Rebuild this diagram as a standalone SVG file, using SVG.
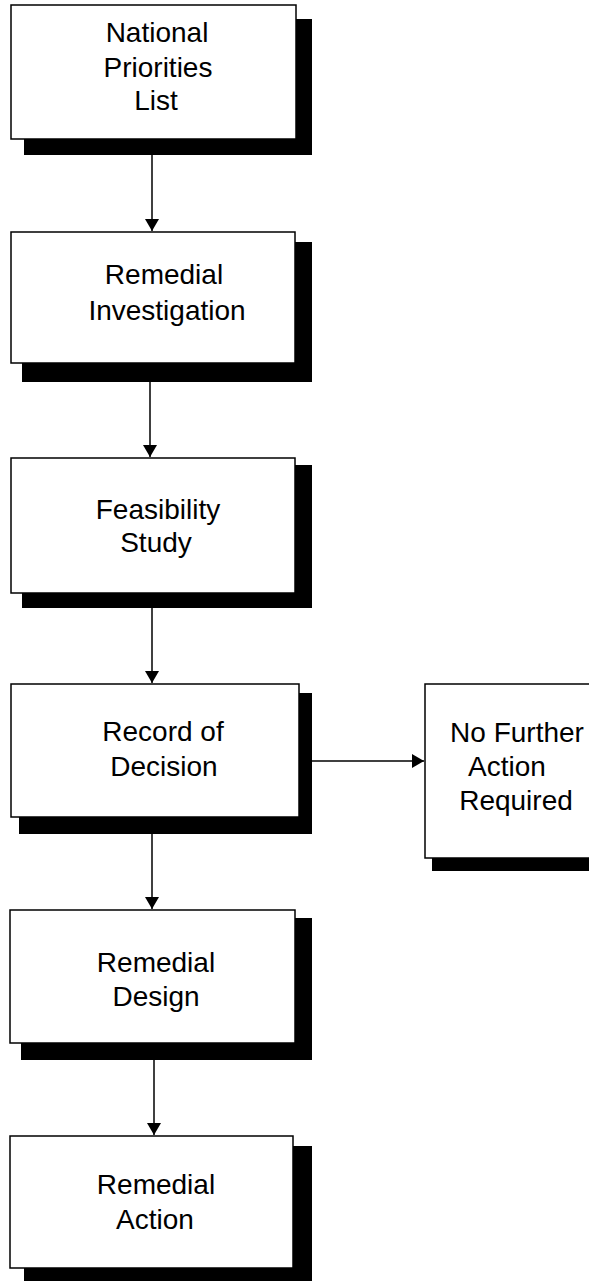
<svg xmlns="http://www.w3.org/2000/svg" width="589" height="1281" viewBox="0 0 589 1281">
  <defs>
    <marker id="arrowhead" markerWidth="14" markerHeight="14" viewBox="0 0 12 14" refX="12" refY="7" orient="auto" markerUnits="userSpaceOnUse">
      <path d="M0,0 L12,7 L0,14 Z" fill="#000"/>
    </marker>
  </defs>
  <style>
    .shadow { fill: #000; }
    .box { fill: #fff; stroke: #000; stroke-width: 1.5; }
    .label { font-family: "Liberation Sans", Arial, sans-serif; font-size: 28px; fill: #000; text-anchor: middle; }
    .link { stroke: #000; stroke-width: 1.5; fill: none; marker-end: url(#arrowhead); }
  </style>
  <rect width="589" height="1281" fill="#fff"/>

  <g id="connectors">
    <line class="link" x1="152" y1="155" x2="152" y2="231"/>
    <line class="link" x1="150" y1="382" x2="150" y2="457"/>
    <line class="link" x1="152" y1="608" x2="152" y2="683"/>
    <line class="link" x1="152" y1="834" x2="152" y2="909"/>
    <line class="link" x1="154" y1="1060" x2="154" y2="1135"/>
    <line class="link" x1="312" y1="761" x2="424" y2="761"/>
  </g>

  <g id="national-priorities-list">
    <rect class="shadow" x="24" y="19" width="288" height="136"/>
    <rect class="box" x="11" y="5" width="285" height="134"/>
    <text class="label" x="157" y="42">National</text>
    <text class="label" x="158" y="77">Priorities</text>
    <text class="label" x="156" y="110">List</text>
  </g>

  <g id="remedial-investigation">
    <rect class="shadow" x="22" y="242" width="290" height="140"/>
    <rect class="box" x="11" y="232" width="284" height="131"/>
    <text class="label" x="164" y="284">Remedial</text>
    <text class="label" x="167" y="320">Investigation</text>
  </g>

  <g id="feasibility-study">
    <rect class="shadow" x="22" y="465" width="290" height="143"/>
    <rect class="box" x="11" y="458" width="284" height="135"/>
    <text class="label" x="158" y="519">Feasibility</text>
    <text class="label" x="156" y="552">Study</text>
  </g>

  <g id="record-of-decision">
    <rect class="shadow" x="19" y="693" width="293" height="141"/>
    <rect class="box" x="11" y="684" width="288" height="133"/>
    <text class="label" x="163" y="741">Record of</text>
    <text class="label" x="164" y="776">Decision</text>
  </g>

  <g id="no-further-action">
    <rect class="shadow" x="432" y="697" width="200" height="174"/>
    <rect class="box" x="425" y="684" width="190" height="174"/>
    <text class="label" x="517" y="742">No Further</text>
    <text class="label" x="507" y="776">Action</text>
    <text class="label" x="516" y="810">Required</text>
  </g>

  <g id="remedial-design">
    <rect class="shadow" x="21" y="918" width="291" height="142"/>
    <rect class="box" x="10" y="910" width="285" height="133"/>
    <text class="label" x="156" y="972">Remedial</text>
    <text class="label" x="156" y="1006">Design</text>
  </g>

  <g id="remedial-action">
    <rect class="shadow" x="24" y="1146" width="288" height="140"/>
    <rect class="box" x="10" y="1136" width="283" height="132"/>
    <text class="label" x="156" y="1194">Remedial</text>
    <text class="label" x="155" y="1229">Action</text>
  </g>
</svg>
